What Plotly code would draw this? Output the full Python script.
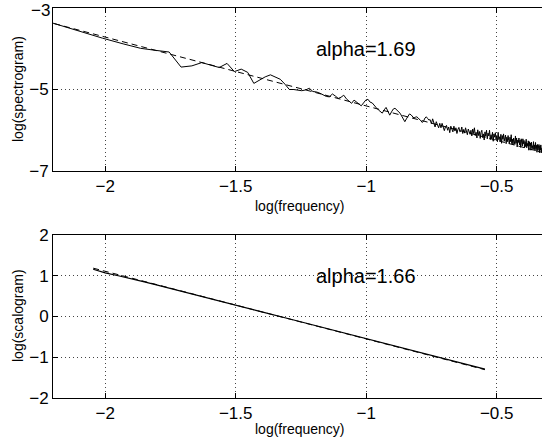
import numpy as np
import plotly.graph_objects as go

# ---------------- data ----------------
# spectrogram: frequency bin indices (frequency = bin / n_fft)
n_fft = 512
freq_bin = [
    3, 4, 5, 6, 7, 8, 9, 10, 11, 12,
    13, 14, 15, 16, 17, 18, 19, 20, 21, 22,
    23, 24, 25, 26, 27, 28, 29, 30, 31, 32,
    33, 34, 35, 36, 37, 38, 39, 40, 41, 42,
    43, 44, 45, 46, 47, 48, 49, 50, 51, 52,
    53, 54, 55, 56, 57, 58, 59, 60, 61, 62,
    63, 64, 65, 66, 67, 68, 69, 70, 71, 72,
    73, 74, 75, 76, 77, 78, 79, 80, 81, 82,
    83, 84, 85, 86, 87, 88, 89, 90, 91, 92,
    93, 94, 95, 96, 97, 98, 99, 100, 101, 102,
    103, 104, 105, 106, 107, 108, 109, 110, 111, 112,
    113, 114, 115, 116, 117, 118, 119, 120, 121, 122,
    123, 124, 125, 126, 127, 128, 129, 130, 131, 132,
    133, 134, 135, 136, 137, 138, 139, 140, 141, 142,
    143, 144, 145, 146, 147, 148, 149, 150, 151, 152,
    153, 154, 155, 156, 157, 158, 159, 160, 161, 162,
    163, 164, 165, 166, 167, 168, 169, 170, 171, 172,
    173, 174, 175, 176, 177, 178, 179, 180, 181, 182,
    183, 184, 185, 186, 187, 188, 189, 190, 191, 192,
    193, 194, 195, 196, 197, 198, 199, 200, 201, 202,
    203, 204, 205, 206, 207, 208, 209, 210, 211, 212,
    213, 214, 215, 216, 217, 218, 219, 220, 221, 222,
    223, 224, 225, 226, 227, 228, 229, 230, 231, 232,
    233, 234, 235, 236, 237, 238, 239, 240, 241,
]
log_spectrogram = [
    -3.31, -3.56, -3.74, -3.88, -3.99, -4.04, -4.08, -4.45, -4.42, -4.34,
    -4.40, -4.46, -4.36, -4.56, -4.50, -4.58, -4.85, -4.77, -4.69, -4.64,
    -4.69, -4.75, -4.87, -5.00, -5.00, -5.01, -5.03, -5.01, -4.97, -5.05,
    -5.06, -5.09, -5.13, -5.17, -5.18, -5.11, -5.16, -5.22, -5.19, -5.14,
    -5.23, -5.28, -5.34, -5.26, -5.31, -5.36, -5.40, -5.33, -5.26, -5.24,
    -5.31, -5.33, -5.40, -5.45, -5.50, -5.55, -5.58, -5.50, -5.44, -5.53,
    -5.63, -5.55, -5.48, -5.46, -5.50, -5.55, -5.58, -5.65, -5.72, -5.79,
    -5.72, -5.65, -5.60, -5.62, -5.67, -5.70, -5.68, -5.67, -5.70, -5.75,
    -5.77, -5.81, -5.77, -5.70, -5.67, -5.71, -5.75, -5.74, -5.84, -5.72,
    -5.83, -5.92, -5.79, -5.85, -5.94, -5.83, -5.94, -5.83, -5.96, -6.01,
    -5.92, -5.88, -6.00, -5.92, -6.06, -5.90, -5.97, -6.04, -5.90, -6.02,
    -5.94, -6.08, -5.98, -5.93, -6.04, -6.02, -5.92, -6.08, -5.98, -6.07,
    -5.94, -6.04, -6.11, -5.97, -6.02, -6.10, -6.00, -6.14, -5.97, -6.08,
    -5.94, -6.13, -6.05, -6.19, -5.99, -6.13, -6.03, -6.20, -6.05, -6.00,
    -6.18, -6.09, -6.24, -6.04, -6.15, -6.00, -6.21, -6.07, -6.14, -6.00,
    -6.23, -6.11, -6.21, -6.05, -6.27, -6.09, -6.17, -6.06, -6.24, -6.13,
    -6.28, -6.05, -6.23, -6.16, -6.27, -6.10, -6.32, -6.13, -6.22, -6.09,
    -6.27, -6.20, -6.12, -6.33, -6.17, -6.28, -6.13, -6.25, -6.33, -6.17,
    -6.28, -6.11, -6.33, -6.22, -6.36, -6.19, -6.25, -6.35, -6.14, -6.32,
    -6.19, -6.41, -6.24, -6.30, -6.19, -6.36, -6.24, -6.42, -6.21, -6.34,
    -6.39, -6.21, -6.33, -6.25, -6.43, -6.28, -6.40, -6.22, -6.43, -6.32,
    -6.39, -6.26, -6.49, -6.28, -6.39, -6.31, -6.49, -6.29, -6.43, -6.38,
    -6.47, -6.28, -6.47, -6.36, -6.51, -6.30, -6.45, -6.37, -6.54, -6.35,
    -6.49, -6.42, -6.35, -6.55, -6.38, -6.49, -6.36, -6.55, -6.43,
]
assert len(freq_bin) == len(log_spectrogram)
alpha_spec = 1.69
spec_fit_at_left = -3.375      # fit value at log(frequency) = -2.2

# scalogram
scal_logf = [-2.046, -2.0, -1.95, -1.9, -1.85, -1.8, -1.7, -1.6, -1.5, -1.4,
             -1.3, -1.2, -1.1, -1.0, -0.9, -0.8, -0.7, -0.6, -0.545]
log_scalogram = [1.16, 1.07, 1.00, 0.93, 0.85, 0.77, 0.61, 0.445, 0.28, 0.115,
                 -0.05, -0.215, -0.38, -0.53, -0.70, -0.87, -1.04, -1.20, -1.29]
alpha_scal = 1.66
scal_fit_at_m15 = 0.28         # fit value at log(frequency) = -1.5

xticks = [-2, -1.5, -1, -0.5]
xtick_text = ["\u22122", "\u22121.5", "\u22121", "\u22120.5"]
yticks_top = [-3, -5, -7]
ytick_top_text = ["\u22123", "\u22125", "\u22127"]
yticks_bot = [-2, -1, 0, 1, 2]
ytick_bot_text = ["\u22122", "\u22121", "0", "1", "2"]

# ---------------- figure ----------------
spec_x = np.log10(np.array(freq_bin) / n_fft)
spec_fit_x = np.array([spec_x[0], spec_x[-1]])
spec_fit_y = spec_fit_at_left - alpha_spec * (spec_fit_x + 2.2)

scal_fit_x = np.array([scal_logf[0], scal_logf[-1]])
scal_fit_y = scal_fit_at_m15 - alpha_scal * (scal_fit_x + 1.5)

FONT = "Liberation Sans, Arial, Helvetica, sans-serif"
W, H = 542, 443
L = 53
fig = go.Figure()

fig.add_trace(go.Scatter(x=spec_x, y=log_spectrogram, mode="lines",
                         line=dict(color="black", width=1), xaxis="x", yaxis="y"))
fig.add_trace(go.Scatter(x=spec_fit_x, y=spec_fit_y, mode="lines",
                         line=dict(color="black", width=1, dash="6px,4px"),
                         xaxis="x", yaxis="y"))
fig.add_trace(go.Scatter(x=scal_logf, y=log_scalogram, mode="lines",
                         line=dict(color="black", width=1.2), xaxis="x2", yaxis="y2"))
fig.add_trace(go.Scatter(x=scal_fit_x, y=scal_fit_y, mode="lines",
                         line=dict(color="black", width=1, dash="6px,4px"),
                         xaxis="x2", yaxis="y2"))

xr = [-2.2, -2.2 + (W - L) / 261.0]
common_x = dict(range=xr, domain=[L / W, 1.0], tickvals=xticks, ticktext=xtick_text,
                ticks="inside", ticklen=5, tickcolor="black", showline=True,
                linecolor="black", linewidth=1, mirror="ticks", showgrid=True,
                gridcolor="#444", griddash="1px,3px", gridwidth=1, zeroline=False,
                tickfont=dict(family=FONT, size=17, color="black"),
                automargin=False, fixedrange=True)
common_y = dict(ticks="inside", ticklen=5, tickcolor="black", showline=True,
                linecolor="black", linewidth=1, mirror=False, showgrid=True,
                gridcolor="#444", griddash="1px,3px", gridwidth=1, zeroline=False,
                tickfont=dict(family=FONT, size=17, color="black"),
                automargin=False, fixedrange=True)

# the top tick label would be culled at the figure edge; it is drawn as an annotation
top_ticktext_axis = [""] + ytick_top_text[1:]

fig.update_layout(
    width=W, height=H, margin=dict(l=0, r=0, t=0, b=0, autoexpand=False),
    paper_bgcolor="white", plot_bgcolor="white", showlegend=False,
    xaxis=dict(anchor="y", **common_x),
    yaxis=dict(anchor="x", domain=[1 - 171 / H, 1 - 8 / H], range=[-7, -3],
               tickvals=yticks_top, ticktext=top_ticktext_axis, **common_y),
    xaxis2=dict(anchor="y2", **common_x),
    yaxis2=dict(anchor="x2", domain=[1 - 398 / H, 1 - 235 / H], range=[-2, 2],
                tickvals=yticks_bot, ticktext=ytick_bot_text, **common_y),
)

ann = [
    dict(text=ytick_top_text[0], x=(L - 2) / W, y=1.0, xref="paper", yref="paper",
         xanchor="right", yanchor="top", showarrow=False, borderpad=0,
         font=dict(family=FONT, size=17, color="black")),
    dict(text="alpha=1.69", x=-1.2, y=-4.0, xref="x", yref="y", xanchor="left",
         yanchor="middle", showarrow=False, font=dict(family=FONT, size=20, color="black")),
    dict(text="alpha=1.66", x=-1.2, y=1.0, xref="x2", yref="y2", xanchor="left",
         yanchor="middle", showarrow=False, font=dict(family=FONT, size=20, color="black")),
    dict(text="log(frequency)", x=300 / W, y=1 - 206 / H, xref="paper", yref="paper",
         xanchor="center", yanchor="middle", showarrow=False,
         font=dict(family=FONT, size=14, color="black")),
    dict(text="log(frequency)", x=300 / W, y=1 - 429 / H, xref="paper", yref="paper",
         xanchor="center", yanchor="middle", showarrow=False,
         font=dict(family=FONT, size=14, color="black")),
    dict(text="log(spectrogram)", x=18 / W, y=1 - 89 / H, xref="paper", yref="paper",
         xanchor="center", yanchor="middle", showarrow=False, textangle=-90,
         font=dict(family=FONT, size=14, color="black")),
    dict(text="log(scalogram)", x=18 / W, y=1 - 316 / H, xref="paper", yref="paper",
         xanchor="center", yanchor="middle", showarrow=False, textangle=-90,
         font=dict(family=FONT, size=14, color="black")),
]
fig.update_layout(annotations=ann)

fig.write_html("out.html", config={"displayModeBar": False},
               post_script="document.body.style.margin='0';")
